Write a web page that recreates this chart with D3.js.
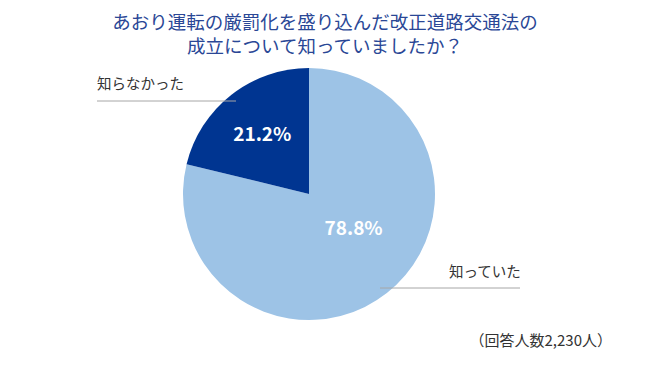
<!DOCTYPE html>
<meta charset="utf-8">
<style>
body { margin: 0; background: #fff; }
text { font-family: "Noto Sans CJK JP", "Noto Sans", sans-serif; }
</style>
<body>
<script src="https://d3js.org/d3.v7.min.js"></script>
<script>

var width = 650,
    height = 365;

// data
var categories = ["知っていた", "知らなかった"];
var values = [78.8, 21.2];
var colors = ["#9dc3e6", "#003591"];
var titleLines = ["あおり運転の厳罰化を盛り込んだ改正道路交通法の", "成立について知っていましたか？"];
var note = "（回答人数2,230人）";

var cx = 309, cy = 194, r = 126;

var svg = d3.select("body").append("svg")
    .attr("width", width)
    .attr("height", height);

svg.selectAll(".title")
    .data(titleLines)
    .enter().append("text")
    .attr("class", "title")
    .attr("x", 325)
    .attr("y", function(d, i) { return 29 + i * 24; })
    .attr("text-anchor", "middle")
    .attr("fill", "#2a4796")
    .style("font-size", "18.5px")
    .text(function(d) { return d; });

var pie = d3.pie().sort(null)(values);
var arc = d3.arc().innerRadius(0).outerRadius(r);

var g = svg.append("g").attr("transform", "translate(" + cx + "," + cy + ")");

g.selectAll("path")
    .data(pie)
    .enter().append("path")
    .attr("d", arc)
    .attr("fill", function(d, i) { return colors[i]; });

// percent labels (Excel-style placement radius per slice)
var labelRadius = [0.47, 0.6];
g.selectAll(".pct")
    .data(pie)
    .enter().append("text")
    .attr("class", "pct")
    .attr("transform", function(d, i) {
      var la = d3.arc().innerRadius(r * labelRadius[i]).outerRadius(r * labelRadius[i]);
      var c = la.centroid(d);
      if (i === 0) c = [c[0] + 8, c[1] - 12];
      return "translate(" + c + ")";
    })
    .attr("dy", "0.35em")
    .attr("text-anchor", "middle")
    .attr("fill", "#fff")
    .style("font-size", "19px")
    .style("font-weight", "bold")
    .text(function(d) { return d.value.toFixed(1) + "%"; });

// leader lines + category labels
var leaders = [
  {x1: 380, x2: 520, y: 288, tx: 449, ty: 277},
  {x1: 236, x2: 97, y: 101, tx: 97, ty: 89}
];

svg.selectAll(".leader")
    .data(leaders)
    .enter().append("line")
    .attr("x1", function(d) { return d.x1; })
    .attr("x2", function(d) { return d.x2; })
    .attr("y1", function(d) { return d.y; })
    .attr("y2", function(d) { return d.y; })
    .attr("stroke", "#a6a6a6")
    .attr("stroke-width", 1);

svg.selectAll(".cat")
    .data(leaders)
    .enter().append("text")
    .attr("class", "cat")
    .attr("x", function(d) { return d.tx; })
    .attr("y", function(d) { return d.ty; })
    .attr("fill", "#333")
    .style("font-size", "14.5px")
    .text(function(d, i) { return categories[i]; });

svg.append("text")
    .attr("x", 612)
    .attr("y", 346)
    .attr("text-anchor", "end")
    .attr("fill", "#333")
    .style("font-size", "15px")
    .text(note);

</script>
